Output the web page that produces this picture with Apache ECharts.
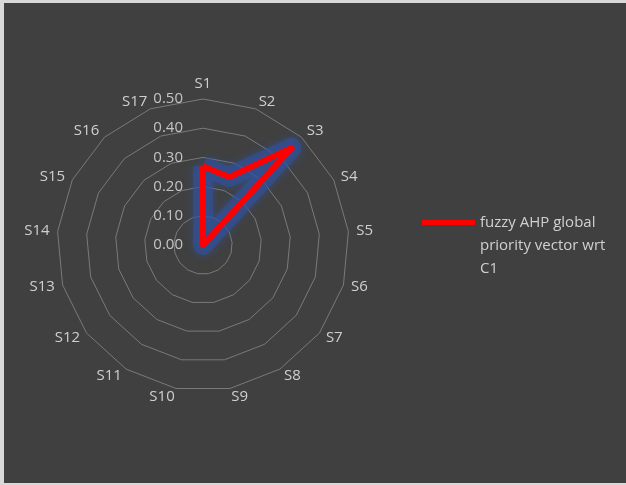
<!DOCTYPE html>
<html><head><meta charset="utf-8">
<script src="https://cdn.jsdelivr.net/npm/echarts@6/dist/echarts.min.js"></script>
<style>
html,body{margin:0;padding:0;background:#d9d9d9;width:626px;height:485px;overflow:hidden;}
#c{position:absolute;left:4px;top:3px;width:622px;height:480px;background:#404040;}
</style></head>
<body><div id="c"></div>
<script>
const categories = ['S1','S2','S3','S4','S5','S6','S7','S8','S9','S10','S11','S12','S13','S14','S15','S16','S17'];
const seriesName = 'fuzzy AHP global priority vector wrt C1';
const legendLines = ['fuzzy AHP global', 'priority vector wrt', 'C1'];
const values = [0.27, 0.25, 0.45, 0, 0, 0, 0, 0, 0, 0, 0, 0, 0, 0, 0, 0, 0];
const axisMin = 0, axisMax = 0.5, splitCount = 5;

// ECharts radar runs counter-clockwise; reorder so S1..S17 go clockwise like the original
const order = [0].concat(categories.map((_, i) => i).slice(1).reverse());
const cwCategories = order.map(i => categories[i]);
const cwValues = order.map(i => values[i]);

const FONT = "'Open Sans', 'Noto Sans', sans-serif";
const chart = echarts.init(document.getElementById('c'));
chart.setOption({
  backgroundColor: '#404040',
  animation: false,
  legend: {
    left: 418, top: 162, padding: 0,
    orient: 'vertical',
    itemWidth: 53, itemHeight: 5, itemGap: 5,
    icon: 'rect',
    data: [{ name: seriesName, itemStyle: { color: '#ff0000' } }],
    formatter: () => '\n\n' + legendLines.join('\n'),
    textStyle: { color: '#d0d0d0', fontSize: 15, fontFamily: FONT, lineHeight: 23 }
  },
  radar: {
    center: [199, 242],
    radius: 146,
    startAngle: 90,
    shape: 'polygon',
    splitNumber: splitCount,
    indicator: cwCategories.map((c, i) => ({
      name: c, min: axisMin, max: axisMax,
      axisLabel: i === 0 ? {
        show: true, color: '#c4c4c4', fontSize: 15, fontFamily: FONT,
        formatter: v => v.toFixed(2), margin: 20
      } : { show: false }
    })),
    nameGap: 8,
    axisName: { color: '#cfcfcf', fontSize: 15, fontFamily: FONT },
    axisLine: { show: false },
    axisTick: { show: false },
    axisLabel: { show: false },
    splitLine: { lineStyle: { color: '#7a7a7a', width: 1 } },
    splitArea: { show: false }
  },
  series: [{
    type: 'radar',
    name: 'glow',
    symbol: 'none',
    silent: true,
    lineStyle: { color: 'rgba(48,82,160,0.55)', width: 20, join: 'round', shadowColor: 'rgba(48,85,170,0.9)', shadowBlur: 8 },
    data: [{ value: cwValues }]
  }, {
    type: 'radar',
    name: seriesName,
    symbol: 'none',
    color: '#ff0000',
    lineStyle: { color: '#ff0000', width: 6, join: 'round' },
    data: [{ value: cwValues, name: seriesName }]
  }]
});
</script></body></html>
